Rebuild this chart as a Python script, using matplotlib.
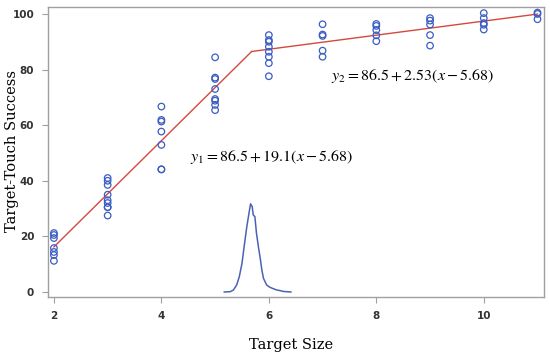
import numpy as np
import matplotlib
matplotlib.use("Agg")
import matplotlib.pyplot as plt

plt.rcParams["mathtext.fontset"] = "stix"

# observed success per target size
size_2 = [21.2, 20.5, 19.4, 15.8, 14.4, 13.3, 11.2]
size_3 = [41.0, 40.0, 38.5, 35.0, 33.0, 32.0, 30.5, 30.5, 27.5]
size_4 = [66.7, 61.9, 61.3, 57.7, 52.9, 44.1, 44.1]
size_5 = [84.4, 77.1, 76.6, 73.0, 69.4, 68.8, 67.3, 65.4]
size_6 = [92.4, 90.6, 90.0, 88.2, 86.4, 84.6, 82.3, 77.6]
size_7 = [96.3, 92.6, 92.1, 86.8, 84.6]
size_8 = [96.4, 95.7, 94.2, 92.3, 90.2]
size_9 = [98.5, 97.6, 96.2, 92.4, 88.6]
size_10 = [100.3, 98.5, 96.7, 96.1, 94.4]
size_11 = [100.5, 100.0, 98.1]
groups = {2: size_2, 3: size_3, 4: size_4, 5: size_5, 6: size_6,
          7: size_7, 8: size_8, 9: size_9, 10: size_10, 11: size_11}

# piecewise fit
knot = 5.68
y_knot = 86.5
slope1 = 19.1
slope2 = 2.53

# breakpoint density (scaled)
dens_x = [5.17, 5.28, 5.34, 5.40, 5.45, 5.50, 5.54, 5.59, 5.64, 5.66, 5.69,
          5.71, 5.74, 5.77, 5.81, 5.84, 5.87, 5.90, 5.96, 6.02, 6.08, 6.15,
          6.21, 6.27, 6.41]
dens_y = [0.0, 0.1, 0.7, 2.5, 5.5, 10.3, 16.3, 23.5, 29.5, 31.7, 30.7,
          27.7, 27.1, 21.1, 15.7, 12.1, 7.9, 4.9, 2.5, 1.7, 1.2, 0.7,
          0.5, 0.2, 0.0]

fig = plt.figure(figsize=(5.5, 3.59), dpi=100)
ax = fig.add_axes([0.0873, 0.1727, 0.9017, 0.8078])

for xv, ys in groups.items():
    ax.scatter([xv] * len(ys), ys, s=22, facecolors="none",
               edgecolors="#3a5cc4", linewidths=0.9, zorder=3)

xs1 = np.array([2, knot])
xs2 = np.array([knot, 11])
ax.plot(xs1, y_knot + slope1 * (xs1 - knot), color="#d5483e", lw=1.0, zorder=2)
ax.plot(xs2, y_knot + slope2 * (xs2 - knot), color="#d5483e", lw=1.0, zorder=2)

ax.plot(dens_x, dens_y, color="#4a62b4", lw=1.1, zorder=2)

ax.text(4.53, 48.6, r"$y_1 = 86.5 + 19.1(x - 5.68)$", fontsize=11.5,
        va="center", ha="left")
ax.text(7.16, 77.7, r"$y_2 = 86.5 + 2.53(x - 5.68)$", fontsize=11.5,
        va="center", ha="left")

ax.set_xlim(1.89, 11.12)
ax.set_ylim(-1.8, 102.5)
ax.set_xticks([2, 4, 6, 8, 10])
ax.set_yticks([0, 20, 40, 60, 80, 100])

for sp in ax.spines.values():
    sp.set_color("#a0a0a0")
    sp.set_linewidth(1.0)
ax.tick_params(direction="out", length=4, color="#a0a0a0", labelsize=7.5,
               labelcolor="#333333", pad=6)
for lab in ax.get_xticklabels() + ax.get_yticklabels():
    lab.set_fontweight("semibold")

fig.text(0.53, 0.04, "Target Size", family="DejaVu Serif", fontsize=10.5,
         ha="center", va="center")
fig.text(0.022, 0.58, "Target-Touch Success", family="DejaVu Serif",
         fontsize=10.5, ha="center", va="center", rotation=90)

fig.savefig("out.png", dpi=100)
